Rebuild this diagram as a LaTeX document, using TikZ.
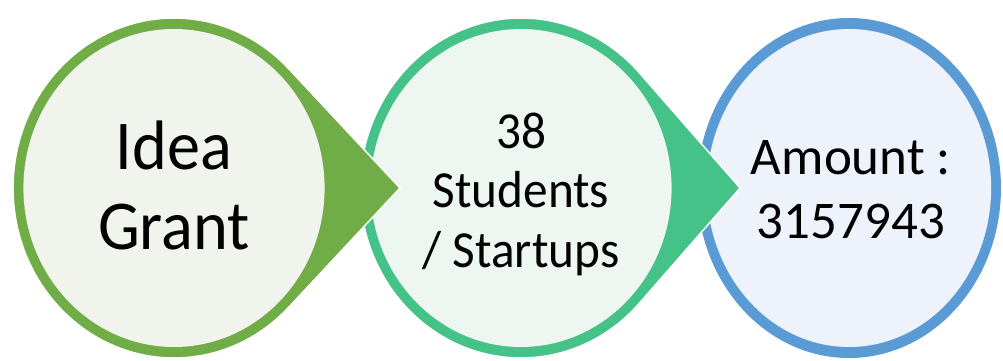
\documentclass[tikz,border=0pt]{standalone}
\usepackage{fontspec}
\setmainfont{Carlito}
\usetikzlibrary{calc}
\definecolor{ideagreen}{RGB}{112,173,71}
\definecolor{ideafill}{RGB}{240,244,237}
\definecolor{studteal}{RGB}{68,194,136}
\definecolor{studfill}{RGB}{237,246,241}
\definecolor{amtblue}{RGB}{91,155,213}
\definecolor{amtfill}{RGB}{238,242,250}
\newcommand{\teardrop}[6]{ % #1: centre x, #2: centre y, #3: x-squash, #4: tip distance, #5: ring colour, #6: inner fill
  \pgfmathsetmacro{\tanang}{acos(170/#4)} % angle of the tangent points
  \begin{scope}[shift={(#1,#2)}, xscale=#3]
    \filldraw[fill=#5, draw=white, line width=1.5pt] (#4,0) -- (\tanang:170) arc (\tanang:360-\tanang:170) -- cycle; % ring with pointer
    \fill[#6] (0,0) circle (159); % inner disc
  \end{scope}
}

\begin{document}
\begin{tikzpicture}[x=1pt, y=-1pt]
\useasboundingbox (0,0) rectangle (1003,361);

% Amount circle (no pointer)
\begin{scope}[shift={(849,188)}, xscale=0.894]
  \fill[amtblue] (0,0) circle (170);
  \fill[amtfill] (0,0) circle (159);
\end{scope}

% Students circle, pointer overlaps the amount circle
\teardrop{521}{188}{0.947}{231.3}{studteal}{studfill}

% Idea Grant circle, pointer overlaps the students circle
\teardrop{174}{188}{0.947}{238.6}{ideagreen}{ideafill}

% Labels
\node[xscale=0.947, transform shape, align=center, font=\fontsize{70}{80}\selectfont] (idea) at (174,185) {Idea\\Grant};
\node[xscale=0.947, transform shape, align=center, font=\fontsize{52}{59.5}\selectfont] (students) at (521,194) {38\\Students\\/ Startups};
\node[align=center, font=\fontsize{53}{64}\selectfont] (amount) at (851,190) {Amount :\\3157943};

\end{tikzpicture}
\end{document}
